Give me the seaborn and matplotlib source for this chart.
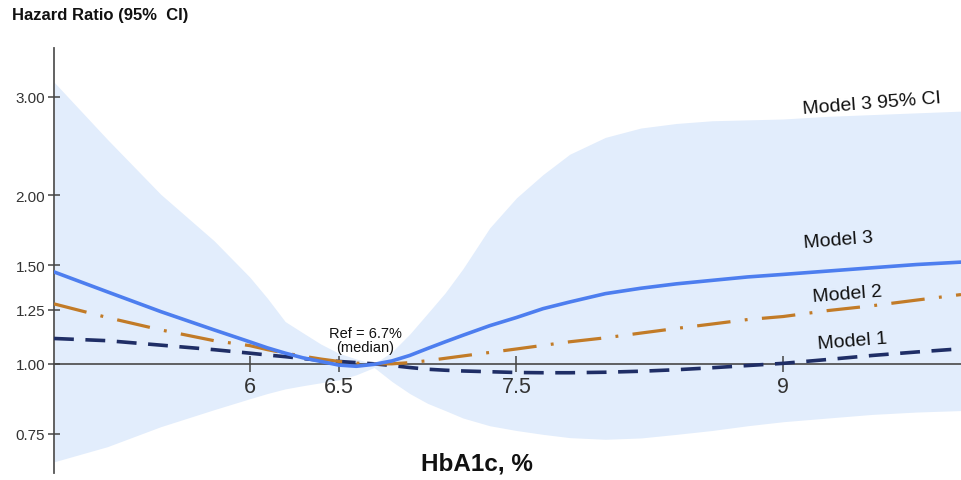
import numpy as np
import pandas as pd
import matplotlib
matplotlib.use("Agg")
import matplotlib.pyplot as plt
from matplotlib.ticker import FixedLocator, FixedFormatter, NullLocator
import seaborn as sns

# ---- data ----
hba1c = [4.9, 5.2, 5.5, 5.8, 6.0, 6.1, 6.2, 6.3, 6.4, 6.5, 6.6, 6.7, 6.8, 6.9, 7.0,
         7.1, 7.2, 7.35, 7.5, 7.65, 7.8, 8.0, 8.2, 8.4, 8.6, 8.8, 9.0, 9.25, 9.5,
         9.75, 10.0]

model3 = [1.46, 1.345, 1.24, 1.15, 1.095, 1.068, 1.045, 1.025, 1.01, 0.995, 0.99, 0.998,
          1.012, 1.035, 1.065, 1.095, 1.125, 1.17, 1.21, 1.255, 1.29, 1.335, 1.365,
          1.39, 1.41, 1.43, 1.445, 1.465, 1.485, 1.505, 1.52]
model2 = [1.28, 1.21, 1.15, 1.10, 1.078, 1.06, 1.045, 1.032, 1.02, 1.01, 1.003, 1.0,
          1.0, 1.005, 1.013, 1.023, 1.033, 1.048, 1.063, 1.079, 1.095, 1.113, 1.135,
          1.157, 1.178, 1.20, 1.215, 1.245, 1.27, 1.30, 1.33]
model1 = [1.11, 1.10, 1.08, 1.06, 1.045, 1.037, 1.03, 1.022, 1.015, 1.01, 1.005, 1.0,
          0.993, 0.985, 0.978, 0.974, 0.971, 0.968, 0.965, 0.964, 0.964, 0.966, 0.970,
          0.976, 0.984, 0.993, 1.002, 1.018, 1.035, 1.05, 1.064]
ci_upper = [3.19, 2.52, 2.01, 1.66, 1.43, 1.31, 1.19, 1.136, 1.085, 1.045, 1.02, 1.0,
            1.05, 1.13, 1.23, 1.34, 1.48, 1.75, 1.98, 2.18, 2.37, 2.54, 2.64, 2.69,
            2.72, 2.73, 2.74, 2.77, 2.79, 2.81, 2.83]
ci_lower = [0.668, 0.711, 0.772, 0.828, 0.866, 0.885, 0.902, 0.914, 0.925, 0.936, 0.956,
            0.985, 0.93, 0.885, 0.85, 0.825, 0.80, 0.775, 0.76, 0.748, 0.738, 0.733,
            0.737, 0.748, 0.76, 0.775, 0.788, 0.80, 0.812, 0.82, 0.825]

y_ticks = [0.75, 1.0, 1.25, 1.5, 2.0, 3.0]
y_tick_labels = ["0.75", "1.00", "1.25", "1.50", "2.00", "3.00"]
x_ticks = [6, 6.5, 7.5, 9]
x_tick_labels = ["6", "6.5", "7.5", "9"]

df = pd.DataFrame({"HbA1c": hba1c, "Model 1": model1, "Model 2": model2,
                   "Model 3": model3, "lo": ci_lower, "hi": ci_upper})

# ---- style ----
sns.set_theme(style="white")
plt.rcParams["font.family"] = ["Liberation Sans", "DejaVu Sans"]

fig = plt.figure(figsize=(9.61, 4.81), dpi=100)
ax = fig.add_axes([54 / 961, 1 - 474 / 481, 907 / 961, 425 / 481])
ax.set_yscale("log")
ax.set_axisbelow(False)

band_color = "#E2EDFC"
c3 = "#4D7EEF"
c2 = "#C27B27"
c1 = "#1F2E66"

ax.fill_between(df["HbA1c"], df["lo"], df["hi"], color=band_color, lw=0, zorder=1)

sns.lineplot(data=df, x="HbA1c", y="Model 1", ax=ax, color=c1, lw=2.6,
             linestyle=(0, (5.5, 3.2)), zorder=3)
sns.lineplot(data=df, x="HbA1c", y="Model 2", ax=ax, color=c2, lw=2.3,
             linestyle=(0, (10.5, 4.5, 0.9, 4.5)), zorder=4)
sns.lineplot(data=df, x="HbA1c", y="Model 3", ax=ax, color=c3, lw=2.6,
             linestyle="-", zorder=5)

ax.set_xlim(4.9, 10.0)
ax.set_ylim(0.638, 3.67)

# axes styling
for s in ["top", "right"]:
    ax.spines[s].set_visible(False)
ax.spines["left"].set_color("#555555")
ax.spines["left"].set_linewidth(1.3)
ax.spines["bottom"].set_position(("data", 1.0))
ax.spines["bottom"].set_color("#555555")
ax.spines["bottom"].set_linewidth(1.3)
ax.spines["bottom"].set_zorder(2)

ax.yaxis.set_major_locator(FixedLocator(y_ticks))
ax.yaxis.set_major_formatter(FixedFormatter(y_tick_labels))
ax.yaxis.set_minor_locator(NullLocator())
ax.xaxis.set_major_locator(FixedLocator(x_ticks))
ax.xaxis.set_major_formatter(FixedFormatter(x_tick_labels))
ax.xaxis.set_minor_locator(NullLocator())

ax.tick_params(axis="y", direction="inout", length=8.5, width=1.1, color="#444444",
               labelsize=11, labelcolor="#333333", pad=2, left=True)
ax.tick_params(axis="x", direction="inout", length=11.5, width=1.1, color="#444444",
               labelsize=15.5, labelcolor="#333333", pad=3, bottom=True)
ax.grid(False)

# axis titles
ax.set_ylabel("Hazard Ratio (95%  CI)", rotation=0, ha="left", va="top",
              fontsize=12, fontweight="bold", color="#111111")
ax.yaxis.set_label_coords(-42 / 907, (474 - 8) / 425)
ax.set_xlabel("HbA1c, %", fontsize=17.5, fontweight="bold", color="#111111",
              va="top")
ax.xaxis.set_label_coords((477 - 54) / 907, (474 - 453) / 425)

# annotations
txt_kw = dict(ha="center", va="center", color="#111111", zorder=6)
ax.text(9.50, 2.93, "Model 3 95% CI", fontsize=14, rotation=4.5, **txt_kw)
ax.text(9.31, 1.665, "Model 3", fontsize=14, rotation=4.5, **txt_kw)
ax.text(9.36, 1.336, "Model 2", fontsize=14, rotation=4.5, **txt_kw)
ax.text(9.39, 1.099, "Model 1", fontsize=14, rotation=4.5, **txt_kw)
ax.text(6.65, 1.104, "Ref = 6.7%\n(median)", fontsize=10.5, linespacing=1.05,
        **txt_kw)

fig.savefig("out.png", dpi=100)
